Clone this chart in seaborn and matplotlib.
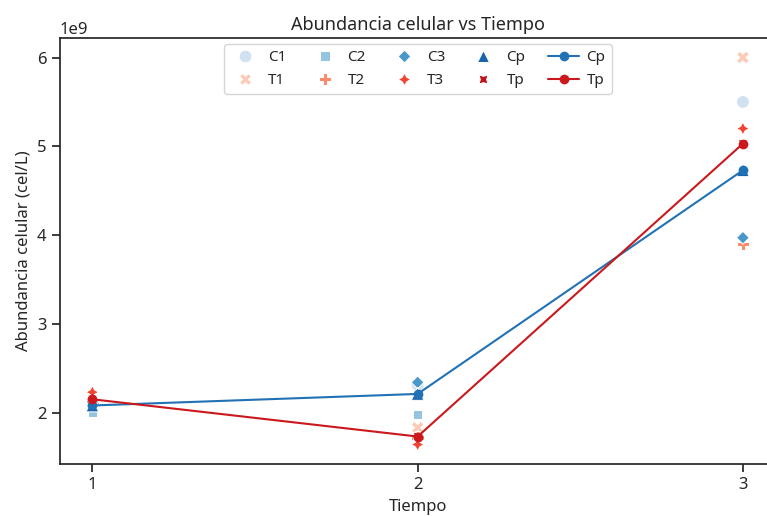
import pandas as pd
import matplotlib
matplotlib.use("Agg")
import matplotlib.pyplot as plt
import seaborn as sns

# datos (cel/L)
tiempo = [1, 2, 3]
C1 = [2.12e9, 2.31e9, 5.50e9]
T1 = [2.10e9, 1.83e9, 6.00e9]
C2 = [2.00e9, 1.98e9, 4.72e9]
T2 = [2.12e9, 1.72e9, 3.90e9]
C3 = [2.12e9, 2.34e9, 3.97e9]
T3 = [2.23e9, 1.64e9, 5.20e9]
Cp = [2.08e9, 2.21e9, 4.73e9]
Tp = [2.15e9, 1.73e9, 5.03e9]

muestras = ["C1", "T1", "C2", "T2", "C3", "T3", "Cp", "Tp"]
series = [C1, T1, C2, T2, C3, T3, Cp, Tp]

sns.set_theme(style="ticks")
plt.rcParams['font.family'] = ['Noto Sans', 'DejaVu Sans']

df = pd.DataFrame({
    "Tiempo": tiempo * len(muestras),
    "Abundancia": [v for s in series for v in s],
    "Muestra": [m for m in muestras for _ in tiempo],
})
df_p = df[df["Muestra"].isin(["Cp", "Tp"])]

blues = sns.color_palette("Blues", 4)
reds = sns.color_palette("Reds", 4)
paleta = [c for par in zip(blues, reds) for c in par]

fig = plt.figure(figsize=(7.67, 5.16), dpi=100)
ax = fig.add_axes([0.078, 0.101, 0.933, 0.825])

sns.scatterplot(data=df, x="Tiempo", y="Abundancia", hue="Muestra", style="Muestra",
                palette=paleta, s=85, ax=ax)
sns.lineplot(data=df_p, x="Tiempo", y="Abundancia", hue="Muestra",
             palette=["#2171b5", "#cb181d"], marker="o", markersize=7,
             markeredgewidth=0, ax=ax)
ax.set_xlim(0.9, 3.1)

handles, labels = ax.get_legend_handles_labels()
ax.legend(handles, labels, ncol=5, loc="upper center", fontsize=11,
          handletextpad=0.5, columnspacing=1.5, borderaxespad=0.4)

ax.set_xticks(tiempo)
ax.set_title("Abundancia celular vs Tiempo", fontsize=13)
ax.set_xlabel("Tiempo", fontsize=12)
ax.set_ylabel("Abundancia celular (cel/L)", fontsize=12)
ax.tick_params(labelsize=12)
ax.yaxis.get_offset_text().set_fontsize(12)
# el borde derecho queda fuera de la imagen en el original
ax.spines['right'].set_visible(False)

fig.savefig("out.png", dpi=100)
